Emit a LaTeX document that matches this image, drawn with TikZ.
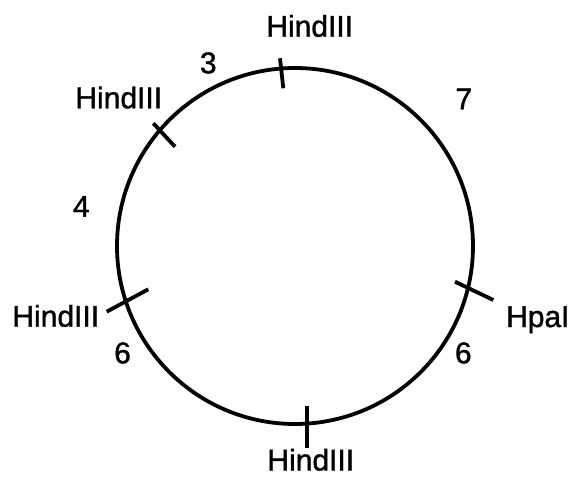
\documentclass[tikz,border=0pt]{standalone}
\usepackage{fontspec}
\setmainfont{Liberation Sans}
\newfontfamily\scanfont[FakeBold=1.2]{Liberation Sans}
\begin{document}
\begin{tikzpicture}[x=1pt,y=-1pt,
  lbl/.style={anchor=base,inner sep=0pt,font=\scanfont\fontsize{30}{36}\selectfont},
  ring/.style={line width=3.8pt},
  tick/.style={line width=3.8pt}]
\useasboundingbox (0,0) rectangle (575,478);
\node[ring,draw,circle,minimum size=356pt,inner sep=0pt] (c) at (295,246) {};
% tick marks
\coordinate (t1a) at (280,58.3);   \coordinate (t1b) at (283.3,88.3);
\coordinate (t2a) at (153.3,123.3); \coordinate (t2b) at (175,146.7);
\coordinate (t3a) at (106.7,311.7); \coordinate (t3b) at (148.3,289.3);
\coordinate (t4a) at (455,281.7);  \coordinate (t4b) at (493.3,300);
\coordinate (t5a) at (307.3,406);  \coordinate (t5b) at (307.3,448);
\draw[tick] (t1a) -- (t1b);
\draw[tick] (t2a) -- (t2b);
\draw[tick] (t3a) -- (t3b);
\draw[tick] (t4a) -- (t4b);
\draw[tick] (t5a) -- (t5b);
% labels
\node[lbl] (h1) at (309.7,36.7) {HindIII};
\node[lbl] (h2) at (118.8,108.3) {HindIII};
\node[lbl] (h3) at (55.8,326.7) {HindIII};
\node[lbl] (h4) at (310.8,470.5) {HindIII};
\node[lbl] (hp) at (537.8,327) {HpaI};
\node[lbl] (n3) at (208.3,73.3) {3};
\node[lbl] (n7) at (463.8,109.3) {7};
\node[lbl] (n4) at (81.3,216.7) {4};
\node[lbl] (n6a) at (122.5,363.3) {6};
\node[lbl] (n6b) at (463.3,363.3) {6};
\end{tikzpicture}
\end{document}
